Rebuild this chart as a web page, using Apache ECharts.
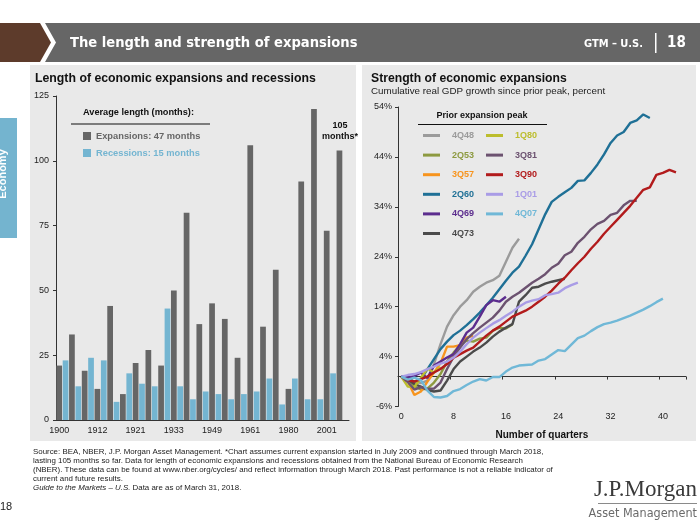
<!DOCTYPE html>
<html><head><meta charset="utf-8">
<script src="https://cdn.jsdelivr.net/npm/echarts/dist/echarts.min.js"></script>
<style>html,body{margin:0;padding:0;background:#fff}#c{width:700px;height:525px}</style>
</head><body><div id="c"></div>
<script>
// ---- Left chart data ----
const expansionYears = [1900,1904,1908,1912,1914,1919,1921,1924,1927,1933,1938,1945,1949,1954,1958,1961,1970,1975,1980,1982,1991,2001,2009];
const expansionMonths = [21,33,19,12,44,10,22,27,21,50,80,37,45,39,24,106,36,58,12,92,120,73,104];
const recessionYears = [1902,1907,1910,1913,1918,1920,1923,1926,1929,1937,1945,1948,1953,1957,1960,1969,1973,1980,1981,1990,2001,2007];
const recessionMonths = [23,13,24,23,7,18,14,13,43,13,8,11,10,8,10,11,16,6,16,8,8,18];
const averageMonths = {Expansions: 47, Recessions: 15};
const leftTicks = [0, 25, 50, 75, 100, 125];

// ---- Right chart data (cumulative real GDP growth, %) ----
const g4Q48 = [0,-0.4,-1.0,-1.3,-0.8,2.5,6.5,10.0,12.3,14.0,15.3,17.0,18.0,18.8,19.3,20.2,23.0,25.8,27.6];
const g2Q53 = [0,-0.5,-2.0,-2.6,-2.4,-1.2,0.5,3.0,4.8,6.3,7.2,7.0,7.6,7.8,9.2,9.8,9.6,10.5];
const g3Q57 = [0,-1.0,-3.7,-3.0,-1.0,0.8,2.7,6.0,6.0,6.3,7.8,8.2];
const g2Q60 = [0,-0.5,-1.0,-0.6,1.5,3.5,5.5,7.0,8.3,9.2,10.3,11.5,12.8,14.3,15.8,17.5,19.2,20.8,22.0,24.2,26.5,29.5,32.5,35.0,36.0,36.9,37.8,39.2,39.3,40.8,42.5,44.5,46.8,48.3,49.0,50.8,51.3,52.5,51.8];
const g4Q69 = [0,-0.2,0.1,0.8,-0.3,2.2,3.0,3.8,4.5,6.5,8.8,9.8,12.0,14.3,15.3,15.0,16.0];
const g4Q73 = [0,-0.6,-1.5,-2.0,-2.7,-3.0,-2.8,-0.8,1.5,3.0,4.0,5.0,5.8,6.8,8.0,9.0,9.8,10.5,15.0,16.3,17.8,18.0,18.6,19.0,19.3,19.6];
const g1Q80 = [0,-2.0,-2.1,-0.3,1.6,0.8,1.9];
const g3Q81 = [0,-1.1,-2.6,-2.1,-2.5,-2.4,-1.2,1.5,4.0,5.8,7.5,8.7,9.8,10.8,11.8,13.2,15.0,16.0,16.8,17.8,18.8,19.6,20.5,21.8,22.6,24.3,25.0,26.8,28.0,29.5,30.6,31.2,32.4,32.8,34.3,35.2,35.2];
const g3Q90 = [0,-0.7,-1.0,-0.5,0.0,0.8,1.5,2.5,3.8,4.5,5.2,5.8,7.0,8.2,9.2,10.0,11.0,12.0,12.6,13.2,14.0,15.0,16.0,17.2,18.6,19.8,21.3,22.7,24.0,25.6,27.0,28.6,30.0,31.4,32.8,34.2,35.8,37.4,37.9,40.4,40.8,41.4,40.9];
const g1Q01 = [0,0.3,0.5,0.9,1.5,2.0,2.6,3.0,3.8,5.0,6.5,7.8,8.8,9.7,10.6,11.3,12.2,13.0,14.0,14.8,15.2,15.5,16.3,16.5,16.8,17.7,18.3,18.8];
const g4Q07 = [0,-0.6,-0.2,-0.7,-2.8,-4.1,-4.2,-3.9,-2.9,-2.5,-1.7,-1.0,-0.5,-0.8,-0.1,-0.1,1.0,1.8,2.2,2.3,2.4,3.2,3.5,4.4,5.3,5.1,6.4,7.7,8.2,9.1,9.9,10.5,10.8,11.2,11.7,12.2,12.8,13.4,14.1,14.9,15.6];
const peakNames = ['4Q48','2Q53','3Q57','2Q60','4Q69','4Q73','1Q80','3Q81','3Q90','1Q01','4Q07'];
const peakSeries = [g4Q48,g2Q53,g3Q57,g2Q60,g4Q69,g4Q73,g1Q80,g3Q81,g3Q90,g1Q01,g4Q07];
const peakColors = ['#9b9b9b','#8d9a40','#f7941d','#1f7096','#5c2d8e','#4b4b4b','#bcbd2d','#6c5270','#b21b1c','#a99ce6','#70b8d7'];
const rightTicks = [-6, 4, 14, 24, 34, 44, 54];
const quarterCount = 44;

// ---- build ----
const barCats = [], expData = [], recData = [];
for (let i = 0; i < expansionMonths.length; i++) {
  barCats.push(String(expansionYears[i])); expData.push(expansionMonths[i]); recData.push(null);
  if (i < recessionMonths.length) {
    barCats.push(String(recessionYears[i])); expData.push(null); recData.push(recessionMonths[i]);
  }
}
const quarters = Array.from({length: quarterCount}, (_, i) => String(i));

const FONT = '"Liberation Sans", Arial, sans-serif';
const darkBar = '#666666', blueBar = '#74b5d1';

const lineSeries = peakNames.map((n, k) => ({
  name: n, type: 'line', xAxisIndex: 1, yAxisIndex: 1,
  data: peakSeries[k], showSymbol: false, symbol: 'none',
  lineStyle: {width: 2.4, color: peakColors[k]}, itemStyle: {color: peakColors[k]},
  z: 3
}));

function legendData(names) {
  return names.map(n => ({name: n, textStyle: {color: peakColors[peakNames.indexOf(n)]}}));
}

const option = {
  animation: false,
  backgroundColor: '#ffffff',
  textStyle: {fontFamily: FONT},
  graphic: [
    // panels
    {type: 'rect', shape: {x: 30, y: 65, width: 326, height: 376}, style: {fill: '#e9e9e9'}, z: -10},
    {type: 'rect', shape: {x: 362, y: 65, width: 334, height: 376}, style: {fill: '#e9e9e9'}, z: -10},
    // header
    {type: 'polygon', shape: {points: [[0,23],[40,23],[51,42.5],[40,62],[0,62]]}, style: {fill: '#5d3b2b'}, z: -5},
    {type: 'polygon', shape: {points: [[45,23],[700,23],[700,62],[45,62],[56,42.5]]}, style: {fill: '#666666'}, z: -5},
    {type: 'text', x: 70, y: 43, style: {text: 'The length and strength of expansions', fill: '#ffffff', font: 'bold 14.6px "DejaVu Sans Condensed", "Liberation Sans", sans-serif', textVerticalAlign: 'middle'}},
    {type: 'text', x: 643, y: 44, style: {text: 'GTM – U.S.', fill: '#ffffff', font: 'bold 11px "DejaVu Sans Condensed", sans-serif', textAlign: 'right', textVerticalAlign: 'middle'}},
    {type: 'rect', shape: {x: 655, y: 33, width: 1.5, height: 20}, style: {fill: '#ffffff'}},
    {type: 'text', x: 667, y: 43, style: {text: '18', fill: '#ffffff', font: 'bold 15px "DejaVu Sans Condensed", sans-serif', textVerticalAlign: 'middle'}},
    // side tab
    {type: 'rect', shape: {x: 0, y: 118, width: 17, height: 120}, style: {fill: '#74b4cf'}},
    {type: 'text', x: 3, y: 174, rotation: Math.PI / 2, style: {text: 'Economy', fill: '#ffffff', font: 'bold 11px ' + FONT, textAlign: 'center', textVerticalAlign: 'middle'}},
    // left titles
    {type: 'text', x: 35, y: 79, style: {text: 'Length of economic expansions and recessions', fill: '#111', font: 'bold 12.3px ' + FONT, textVerticalAlign: 'middle'}},
    {type: 'text', x: 83, y: 112, style: {text: 'Average length (months):', fill: '#111', font: 'bold 9.2px ' + FONT, textVerticalAlign: 'middle'}},
    {type: 'rect', shape: {x: 71, y: 123.5, width: 139, height: 1}, style: {fill: '#111'}},
    {type: 'text', x: 340, y: 126, style: {text: '105', fill: '#111', font: 'bold 9px ' + FONT, textAlign: 'center', textVerticalAlign: 'middle'}},
    {type: 'text', x: 340, y: 137, style: {text: 'months*', fill: '#111', font: 'bold 9px ' + FONT, textAlign: 'center', textVerticalAlign: 'middle'}},
    // right titles
    {type: 'text', x: 371, y: 79, style: {text: 'Strength of economic expansions', fill: '#111', font: 'bold 12.2px ' + FONT, textVerticalAlign: 'middle'}},
    {type: 'text', x: 371, y: 91, style: {text: 'Cumulative real GDP growth since prior peak, percent', fill: '#222', font: '9.8px ' + FONT, textVerticalAlign: 'middle'}},
    {type: 'text', x: 482, y: 116, style: {text: 'Prior expansion peak', fill: '#111', font: 'bold 9px ' + FONT, textAlign: 'center', textVerticalAlign: 'middle'}},
    {type: 'rect', shape: {x: 418, y: 124, width: 129, height: 1}, style: {fill: '#111'}},
    // footnotes
    {type: 'text', x: 33, y: 452, style: {text: 'Source: BEA, NBER, J.P. Morgan Asset Management. *Chart assumes current expansion started in July 2009 and continued through March 2018,', fill: '#222', font: '7.9px ' + FONT, textVerticalAlign: 'middle'}},
    {type: 'text', x: 33, y: 461, style: {text: 'lasting 105 months so far. Data for length of economic expansions and recessions obtained from the National Bureau of Economic Research', fill: '#222', font: '7.9px ' + FONT, textVerticalAlign: 'middle'}},
    {type: 'text', x: 33, y: 470, style: {text: '(NBER). These data can be found at www.nber.org/cycles/ and reflect information through March 2018. Past performance is not a reliable indicator of', fill: '#222', font: '7.9px ' + FONT, textVerticalAlign: 'middle'}},
    {type: 'text', x: 33, y: 479, style: {text: 'current and future results.', fill: '#222', font: '7.9px ' + FONT, textVerticalAlign: 'middle'}},
    {type: 'text', x: 33, y: 488, style: {text: '{i|Guide to the Markets – U.S.} Data are as of March 31, 2018.', fill: '#222', font: '7.9px ' + FONT, textVerticalAlign: 'middle', rich: {i: {fontStyle: 'italic', fontSize: 7.9, fontFamily: FONT, fill: '#222'}}}},
    {type: 'text', x: 0, y: 507, style: {text: '18', fill: '#222', font: '11px ' + FONT, textVerticalAlign: 'middle'}},
    // logo
    {type: 'text', x: 697, y: 490, style: {text: 'J.P.Morgan', fill: '#3a3a3a', font: '23px "Liberation Serif", "DejaVu Serif", serif', textAlign: 'right', textVerticalAlign: 'middle'}},
    {type: 'rect', shape: {x: 598, y: 503, width: 99, height: 1}, style: {fill: '#8a8a8a'}},
    {type: 'text', x: 697, y: 514, style: {text: 'Asset Management', fill: '#6a6a6a', font: '12.5px "DejaVu Sans Condensed", sans-serif', textAlign: 'right', textVerticalAlign: 'middle'}}
  ],
  legend: [
    {orient: 'vertical', left: 83, top: 131.5, padding: 0, itemWidth: 8, itemHeight: 8, itemGap: 8, icon: 'rect',
     data: [{name: 'Expansions', textStyle: {color: darkBar}}, {name: 'Recessions', textStyle: {color: blueBar}}],
     formatter: n => n + ': ' + averageMonths[n] + ' months',
     textStyle: {fontSize: 9.3, fontWeight: 'bold', fontFamily: FONT, padding: [0, 0, 0, 0]}},
    {orient: 'vertical', left: 423, top: 131, padding: 0, itemWidth: 17, itemHeight: 3, itemGap: 10.6, icon: 'rect',
     data: legendData(peakNames.slice(0, 6)),
     textStyle: {fontSize: 9, fontWeight: 'bold', fontFamily: FONT, padding: [0, 0, 0, 7]}},
    {orient: 'vertical', left: 486, top: 131, padding: 0, itemWidth: 17, itemHeight: 3, itemGap: 10.6, icon: 'rect',
     data: legendData(peakNames.slice(6)),
     textStyle: {fontSize: 9, fontWeight: 'bold', fontFamily: FONT, padding: [0, 0, 0, 7]}}
  ],
  grid: [
    {left: 56, top: 96, width: 293, height: 324, outerBoundsMode: 'none', containLabel: false},
    {left: 398, top: 107, width: 287.8, height: 299.5, outerBoundsMode: 'none', containLabel: false}
  ],
  xAxis: [
    {gridIndex: 0, type: 'category', data: barCats, max: barCats.length,
     axisLine: {lineStyle: {color: '#333', width: 1}}, axisTick: {show: false},
     axisLabel: {interval: 5, fontSize: 9, color: '#222', margin: 6, fontFamily: FONT}},
    {gridIndex: 1, type: 'category', data: quarters, boundaryGap: true,
     axisLine: {onZero: true, lineStyle: {color: '#333', width: 1}},
     axisTick: {show: true, interval: 7, length: 3, lineStyle: {color: '#333'}},
     axisLabel: {show: false}},
    {gridIndex: 1, type: 'category', data: quarters, boundaryGap: true, position: 'bottom',
     axisLine: {show: false, onZero: false}, axisTick: {show: false},
     axisLabel: {interval: 7, fontSize: 9, color: '#222', margin: 6, fontFamily: FONT},
     name: 'Number of quarters', nameLocation: 'middle', nameGap: 24,
     nameTextStyle: {fontSize: 10, fontWeight: 'bold', color: '#111', fontFamily: FONT}}
  ],
  yAxis: [
    {gridIndex: 0, type: 'value', min: 0, max: 125, interval: 25,
     axisLine: {show: true, lineStyle: {color: '#333'}}, axisTick: {show: true, length: 3, lineStyle: {color: '#333'}},
     splitLine: {show: false},
     axisLabel: {fontSize: 9, color: '#222', margin: 7, fontFamily: FONT, customValues: leftTicks}},
    {gridIndex: 1, type: 'value', min: -6, max: 54, interval: 10,
     axisLine: {show: true, onZero: false, lineStyle: {color: '#333'}},
     axisTick: {show: true, length: 3, lineStyle: {color: '#333'}, customValues: rightTicks},
     splitLine: {show: false},
     axisLabel: {fontSize: 9, color: '#222', margin: 6, fontFamily: FONT, formatter: v => v + '%', customValues: rightTicks}}
  ],
  series: [
    {name: 'Expansions', type: 'bar', xAxisIndex: 0, yAxisIndex: 0, data: expData, barGap: '-100%', barCategoryGap: '10%', itemStyle: {color: darkBar}},
    {name: 'Recessions', type: 'bar', xAxisIndex: 0, yAxisIndex: 0, data: recData, barGap: '-100%', barCategoryGap: '10%', itemStyle: {color: blueBar}}
  ].concat(lineSeries)
};

const chart = echarts.init(document.getElementById('c'), null, {renderer: 'canvas'});
chart.setOption(option);
</script></body></html>
